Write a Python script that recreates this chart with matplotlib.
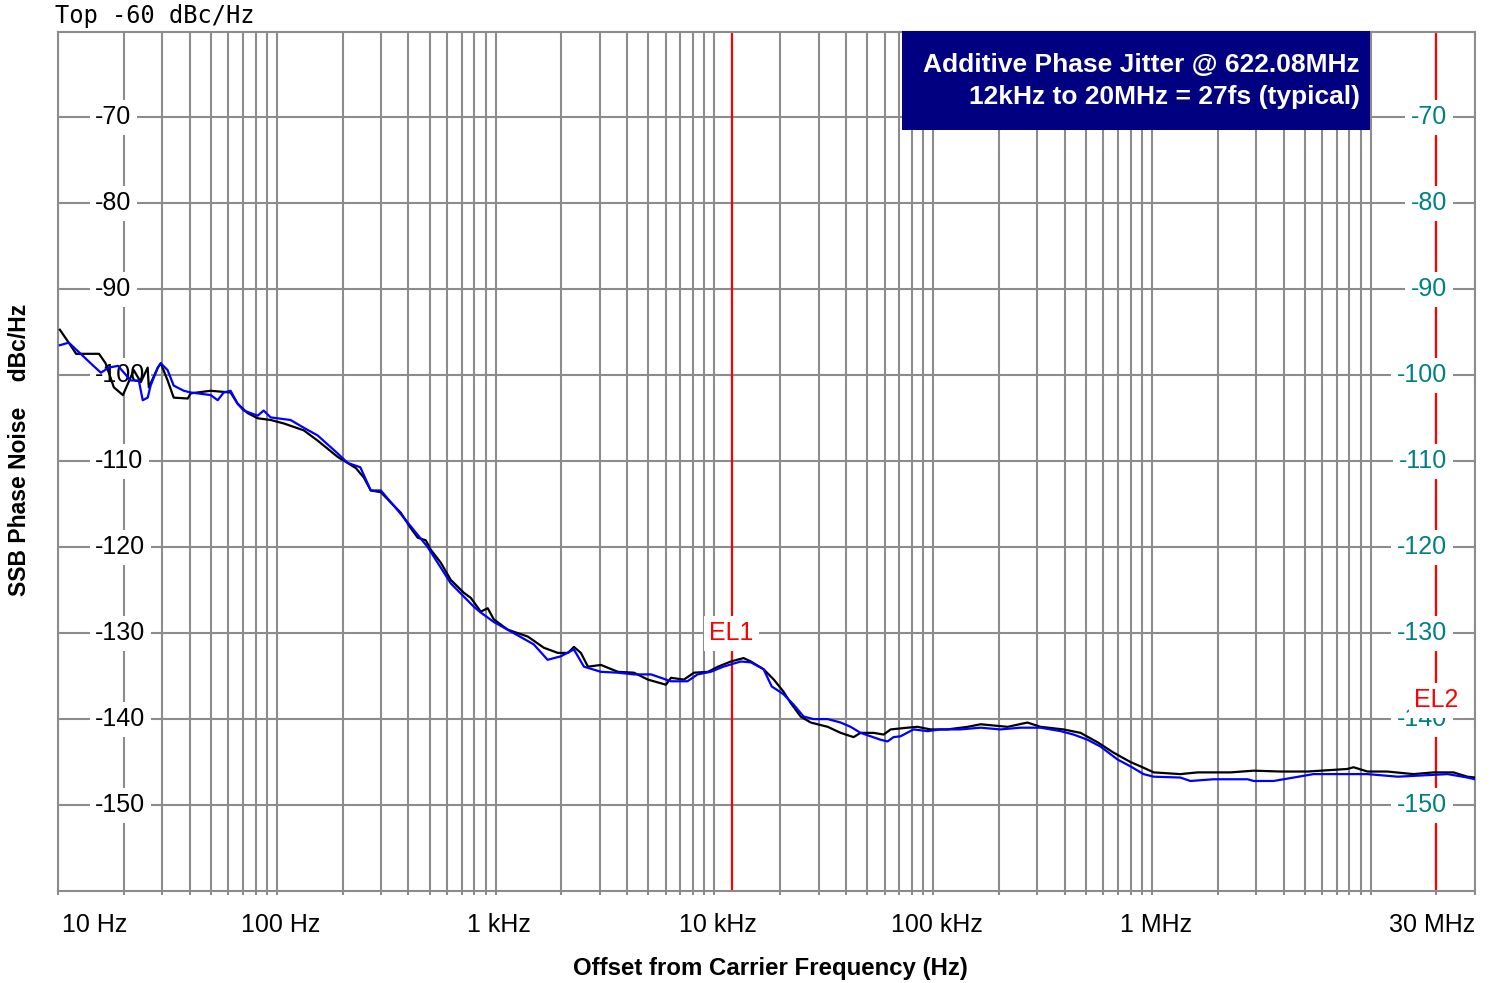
import matplotlib
matplotlib.use("Agg")
import matplotlib.pyplot as plt
import matplotlib.transforms as mtransforms
from matplotlib.patches import Rectangle
from matplotlib.ticker import LogLocator, FixedLocator, NullFormatter

plt.rcParams['font.family'] = ['Liberation Sans', 'DejaVu Sans']

# ---------------- data ----------------
black_freq = [10.2, 11.4, 12.1, 13.1, 15.4, 16.5, 18.0, 19.8, 22.2, 23.9, 25.7, 26.0, 28.6, 29.5,
              31.7, 33.8, 39.2, 40.4, 49.9, 61.5, 66.2, 73.6, 81.8, 93.8, 107.6, 132.8, 153.8,
              190, 211, 230, 250, 269, 299, 332, 369, 410, 441, 480, 506, 562, 624, 716, 771,
              856, 921, 982, 1138, 1405, 1663, 1927, 2142, 2282, 2456, 2645, 3033, 3625, 4288,
              4968, 6010, 6338, 7265, 8073, 9357, 10.4e3, 11.9e3, 13.6e3, 14.7e3, 16.8e3,
              18.7e3, 20.7e3, 22.3e3, 24.8e3, 27.6e3, 33.0e3, 37.8e3, 43.3e3, 46.6e3, 53.5e3,
              59.4e3, 64.0e3, 76.4e3, 84.9e3, 97.3e3, 116e3, 144e3, 165e3, 219e3, 270e3, 310e3,
              394e3, 472e3, 565e3, 668e3, 799e3, 888e3, 1.02e6, 1.35e6, 1.62e6, 2.29e6, 2.92e6,
              3.87e6, 5.15e6, 7.84e6, 8.35e6, 9.68e6, 11.9e6, 15.7e6, 19.4e6, 23.9e6, 27.7e6, 30e6]
black_db = [-94.7, -96.5, -97.5, -97.5, -97.5, -98.6, -101.4, -102.3, -99.4, -100.8, -99.1, -101.4,
            -99.1, -98.6, -100.6, -102.6, -102.7, -102.1, -101.8, -102.0, -103.3, -104.4, -105.0,
            -105.2, -105.6, -106.4, -107.6, -109.5, -110.2, -110.8, -111.9, -113.4, -113.6,
            -114.8, -116.0, -117.8, -118.9, -119.2, -120.3, -121.8, -123.8, -125.3, -125.9,
            -127.5, -127.1, -128.4, -129.6, -130.4, -131.7, -132.3, -132.3, -131.6, -132.3,
            -133.9, -133.7, -134.5, -134.6, -135.4, -136.0, -135.2, -135.4, -134.6, -134.5,
            -133.9, -133.3, -132.9, -133.3, -134.2, -135.4, -136.8, -138.1, -139.7, -140.4,
            -140.9, -141.6, -142.1, -141.6, -141.6, -141.8, -141.2, -141.0, -140.9, -141.2,
            -141.2, -140.9, -140.6, -140.9, -140.4, -140.9, -141.2, -141.6, -142.7, -143.9,
            -145.0, -145.5, -146.2, -146.4, -146.2, -146.2, -146.0, -146.1, -146.1, -145.8,
            -145.6, -146.1, -146.1, -146.4, -146.2, -146.2, -146.7, -146.8]

blue_freq = [10.2, 11.2, 12.7, 14.1, 15.7, 17.1, 18.8, 21.5, 23.4, 24.4, 25.7, 26.5, 28.6, 29.5,
             31.7, 33.8, 37.6, 40.4, 49.9, 53.7, 57.2, 61.5, 66.2, 70.6, 81.8, 87.1, 93.8, 115.6,
             132.8, 153.8, 190, 211, 241, 269, 299, 357, 490, 624, 794, 856, 982, 1211, 1494,
             1730, 1985, 2282, 2535, 3033, 3625, 4288, 5140, 6338, 7540, 8380, 9620, 11.0e3,
             13.2e3, 14.7e3, 16.8e3, 18.3e3, 20.7e3, 23.0e3, 25.6e3, 28.4e3, 33.0e3, 37.8e3,
             42.0e3, 46.6e3, 51.8e3, 57.5e3, 61.9e3, 65.9e3, 71.0e3, 81.4e3, 94.4e3, 108e3,
             133e3, 165e3, 203e3, 251e3, 310e3, 383e3, 439e3, 508e3, 583e3, 697e3, 799e3,
             916e3, 1.02e6, 1.35e6, 1.50e6, 1.91e6, 2.74e6, 2.92e6, 3.60e6, 4.45e6, 5.48e6,
             7.84e6, 9.68e6, 13.3e6, 22.5e6, 27.7e6, 30e6]
blue_db = [-96.5, -96.2, -97.5, -98.6, -99.7, -99.1, -98.9, -100.6, -100.6, -102.9, -102.6, -101.2,
           -99.1, -98.6, -99.4, -101.2, -101.8, -102.0, -102.3, -102.9, -102.0, -101.8, -103.3,
           -104.1, -104.7, -104.1, -104.9, -105.2, -106.1, -107.0, -109.1, -110.2, -110.7,
           -113.4, -113.4, -115.7, -120.0, -124.2, -126.9, -127.6, -128.7, -130.0, -131.3,
           -133.1, -132.7, -131.9, -133.9, -134.5, -134.6, -134.8, -134.8, -135.6, -135.6,
           -134.8, -134.5, -133.9, -133.3, -133.4, -134.2, -136.2, -137.1, -138.3, -139.7,
           -140.0, -140.0, -140.4, -140.9, -141.6, -142.0, -142.4, -142.6, -142.1, -142.0,
           -141.2, -141.4, -141.2, -141.2, -141.0, -141.2, -141.0, -141.0, -141.4, -141.8,
           -142.4, -143.2, -144.7, -145.5, -146.4, -146.7, -146.8, -147.2, -147.0, -147.0,
           -147.2, -147.2, -146.8, -146.4, -146.4, -146.4, -146.7, -146.4, -146.8, -147.0]

x_range = (10, 30e6)
y_range = (-160, -60)
y_ticks = [-70, -80, -90, -100, -110, -120, -130, -140, -150]
x_tick_pos = [10, 100, 1e3, 10e3, 100e3, 1e6, 30e6]
x_tick_labels = ["10 Hz", "100 Hz", "1 kHz", "10 kHz", "100 kHz", "1 MHz", "30 MHz"]
marker_freq = [12e3, 20e6]
marker_labels = ["EL1", "EL2"]
marker_label_db = [-130, -137.8]
box_lines = ["Additive Phase Jitter @ 622.08MHz", "12kHz to 20MHz = 27fs (typical)"]

assert len(black_freq) == len(black_db)
assert len(blue_freq) == len(blue_db)

# ---------------- figure ----------------
W, H = 1491, 983
AX_L, AX_R, AX_T, AX_B = 58, 1475, 31.5, 891
AW, AH = AX_R - AX_L, AX_B - AX_T
fig = plt.figure(figsize=(W / 100, H / 100), dpi=100)
ax = fig.add_axes([AX_L / W, 1 - AX_B / H, AW / W, AH / H])
ax.set_xscale('log')
ax.set_xlim(*x_range)
ax.set_ylim(*y_range)

grid_c = '#8c8c8c'
ax.xaxis.set_major_locator(LogLocator(base=10, numticks=20))
ax.xaxis.set_minor_locator(LogLocator(base=10, subs=range(2, 10), numticks=100))
ax.xaxis.set_major_formatter(NullFormatter())
ax.xaxis.set_minor_formatter(NullFormatter())
ax.yaxis.set_major_locator(FixedLocator(y_ticks))
ax.tick_params(axis='y', which='both', length=0, labelleft=False)
ax.tick_params(axis='x', which='both', direction='out', length=3, width=1.5, color=grid_c)
ax.grid(True, which='both', axis='both', color=grid_c, linewidth=1.5)
ax.set_axisbelow(True)
for sp in ax.spines.values():
    sp.set_color(grid_c)
    sp.set_linewidth(1.5)

# marker lines
for f in marker_freq:
    ax.axvline(f, color='red', linewidth=1.6, zorder=2.5)

# y labels (inside plot, white background)
trans_l = mtransforms.blended_transform_factory(ax.transAxes, ax.transData)
for v in y_ticks:
    ax.text((95 - AX_L) / AW, v, f"{v}", transform=trans_l, ha='left', va='center', fontsize=18,
            color='black', zorder=3,
            bbox=dict(boxstyle='square,pad=0.22', fc='white', ec='none'))
    ax.text((1447 - AX_L) / AW, v, f"{v}", transform=trans_l, ha='right', va='center', fontsize=18,
            color='#008080', zorder=3,
            bbox=dict(boxstyle='square,pad=0.22', fc='white', ec='none'))

# traces
ax.plot(black_freq, black_db, color='black', linewidth=1.6, zorder=4)
ax.plot(blue_freq, blue_db, color='#0000ff', linewidth=1.6, zorder=4.5)

# marker labels
for f, lab, v in zip(marker_freq, marker_labels, marker_label_db):
    ax.text(f, v, lab, ha='center', va='center', fontsize=18, color='red', zorder=6,
            bbox=dict(boxstyle='square,pad=0.22', fc='white', ec='none'))

# navy annotation box
box_x0 = (902 - AX_L) / AW
box_x1 = (1370 - AX_L) / AW
box_y0 = (AX_B - 130) / AH
ax.add_patch(Rectangle((box_x0, box_y0), box_x1 - box_x0, 1 - box_y0, transform=ax.transAxes,
                       facecolor='#000080', edgecolor='none', zorder=7, clip_on=False))
text_x = (1360 - AX_L) / AW
ax.text(text_x, (AX_B - 65) / AH, box_lines[0], transform=ax.transAxes, ha='right', va='center',
        fontsize=19, fontweight='bold', color='white', zorder=8)
ax.text(text_x, (AX_B - 97) / AH, box_lines[1], transform=ax.transAxes, ha='right', va='center',
        fontsize=19, fontweight='bold', color='white', zorder=8)

# x tick labels
trans_b = mtransforms.blended_transform_factory(ax.transData, ax.transAxes)
for i, (p, lab) in enumerate(zip(x_tick_pos, x_tick_labels)):
    if i == 0:
        ha, xp = 'left', p * 1.04
    elif i == len(x_tick_pos) - 1:
        ha, xp = 'right', p
    else:
        ha, xp = 'center', p * 1.04
    ax.text(xp, -(925 - AX_B) / AH, lab, transform=trans_b, ha=ha, va='center', fontsize=18,
            color='black', clip_on=False)

# axis titles and header
fig.text(770 / W, 1 - 968 / H, "Offset from Carrier Frequency (Hz)", ha='center', va='center',
         fontsize=17.3, fontweight='bold')
fig.text(20 / W, 1 - 450 / H, "SSB Phase Noise    dBc/Hz", ha='center', va='center',
         rotation=90, fontsize=16.5, fontweight='bold')
fig.text(55 / W, 1 - 16 / H, "Top -60 dBc/Hz", ha='left', va='center', fontsize=17,
         family='DejaVu Sans Mono')

fig.savefig('out.png', dpi=100)
